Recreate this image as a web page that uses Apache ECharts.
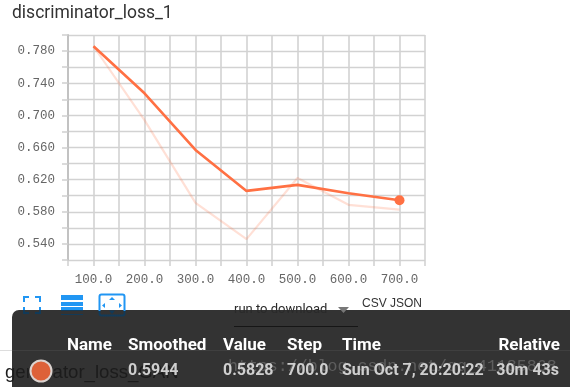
<!DOCTYPE html>
<html>
<head>
<meta charset="utf-8">
<style>html,body{margin:0;padding:0;background:#fff}#c{width:570px;height:387px}</style>
<script src="https://cdn.jsdelivr.net/npm/echarts@6/dist/echarts.min.js"></script>
</head>
<body>
<div id="c"></div>
<script>
const steps = [100, 200, 300, 400, 500, 600, 700];
const smoothed = [0.786, 0.7275, 0.657, 0.606, 0.6135, 0.603, 0.5944];
const rawValues = [0.786, 0.694, 0.591, 0.546, 0.622, 0.5887, 0.5828];
const yTickLabels = ['0.540', '0.580', '0.620', '0.660', '0.700', '0.740', '0.780'];
const xTickLabels = ['100.0', '200.0', '300.0', '400.0', '500.0', '600.0', '700.0'];
const tableHeaders = ['Name', 'Smoothed', 'Value', 'Step', 'Time'];
const tableRow = ['0.5944', '0.5828', '700.0', 'Sun Oct 7, 20:20:22'];

const chart = echarts.init(document.getElementById('c'), null, {renderer: 'canvas'});
const UI = 'Roboto, sans-serif';
const BLUE = '#2196f3', NAVY = '#123a58', LINE = '#ff7043';
const splitY = {show: true, lineStyle: {color: '#d2d2d2', width: 1.4}};
const splitX = {show: true, lineStyle: {color: '#d2d2d2', width: 1.6}};
const tickStyle = {show: true, length: 6, lineStyle: {color: '#cfcfcf', width: 1.5}};
const labelFont = {fontFamily: '"Liberation Mono", monospace', fontSize: 12.5, color: '#666'};

function txt(x, y, s, o) {
  return {type: 'text', x, y, z: o.z || 20, style: Object.assign({
    text: s, fontFamily: UI, fontSize: 15, fill: '#fff', textVerticalAlign: 'middle', verticalAlign: 'middle'
  }, o)};
}
function r(x, y, w, h, fill, z) {
  return {type: 'rect', z: z || 20, shape: {x, y, width: w, height: h}, style: {fill}};
}
function tri(pts, fill) {
  return {type: 'polygon', z: 20, shape: {points: pts}, style: {fill}};
}
const cols = [67, 128, 223, 287, 342];
const rowCols = [128, 223, 287, 342];
const graphic = [
  r(0, 350, 12, 1, '#dddddd', 5),
  {type: 'rect', z: 10, shape: {x: 12, y: 310, width: 570, height: 90, r: [7, 0, 0, 0]}, style: {fill: '#333333'}},
  r(12, 350, 558, 1, '#3f3f3f', 11),
  // fullscreen icon
  r(23, 296, 6, 2, BLUE), r(23, 296, 2, 6, BLUE),
  r(35, 296, 6, 2, BLUE), r(39, 296, 2, 6, BLUE),
  r(23, 307, 2, 3, BLUE), r(39, 307, 2, 3, BLUE),
  r(23, 310, 2, 3, NAVY), r(39, 310, 2, 3, NAVY),
  r(23, 312, 6, 2, NAVY), r(35, 312, 6, 2, NAVY),
  // lines icon
  r(61, 295, 22, 5, BLUE), r(61, 302, 22, 4, BLUE), r(61, 307, 22, 3, BLUE),
  r(61, 310, 22, 1, NAVY), r(61, 314, 22, 1, NAVY),
  // fit icon
  {type: 'rect', z: 20, shape: {x: 99.5, y: 294.5, width: 25, height: 21, r: 2},
    style: {fill: 'none', lineWidth: 2, stroke: {type: 'linear', x: 0, y: 0, x2: 0, y2: 1, colorStops: [
      {offset: 0, color: BLUE}, {offset: 0.72, color: BLUE}, {offset: 0.73, color: NAVY}, {offset: 1, color: NAVY}
    ]}}},
  tri([[109, 300], [112, 297], [115, 300]], BLUE),
  tri([[109, 310.5], [112, 314], [115, 310.5]], NAVY),
  tri([[102, 305.5], [105, 303], [105, 308]], BLUE),
  tri([[122, 305.5], [119, 303], [119, 308]], BLUE),
  // download controls
  txt(234, 310, 'run to download', {fontSize: 13, fill: '#2a2a2a', z: 18}),
  tri([[338, 307], [349, 307], [343.5, 313]], '#777777'),
  r(234, 326, 124, 1, '#161616', 18),
  txt(362, 304, 'CSV', {fontFamily: '"Liberation Sans", sans-serif', fontSize: 12, fill: '#333'}),
  txt(390, 304, 'JSON', {fontFamily: '"Liberation Sans", sans-serif', fontSize: 12, fill: '#333'}),
  // watermark
  txt(228, 367, 'https://blog.csdn.net/qq_41185868', {fontFamily: '"Liberation Mono", monospace', fontSize: 16.6, fill: 'rgba(205,205,205,0.28)', z: 15}),
  // legend circle and overlapping text
  {type: 'circle', z: 16, shape: {cx: 41, cy: 371, r: 10.5}, style: {fill: '#dd6138', stroke: '#dcd3cf', lineWidth: 2}},
  txt(5, 373, 'generator_loss_GAN', {fontFamily: '"Liberation Sans", sans-serif', fontSize: 18.6, fill: '#1c1c1c', z: 14}),
  // table
  ...tableHeaders.map((s, i) => txt(cols[i], 346, s, {fontWeight: 'bold', fontSize: 17})),
  txt(560, 346, 'Relative', {fontWeight: 'bold', fontSize: 17, textAlign: 'right', align: 'right'}),
  ...tableRow.map((s, i) => txt(rowCols[i], 371, s, {fontWeight: 'bold', fontSize: 16, fill: '#cfcfcf'})),
  txt(559, 371, '30m 43s', {fontWeight: 'bold', fontSize: 16, fill: '#cfcfcf', textAlign: 'right', align: 'right'})
];

chart.setOption({
  animation: false,
  backgroundColor: '#fff',
  title: {text: 'discriminator_loss_1', left: 7, top: 0, textStyle: {fontFamily: UI, fontSize: 17.5, fontWeight: 'normal', color: '#333'}},
  grid: {left: 68, right: 145, top: 35, bottom: 127, containLabel: false},
  xAxis: {
    type: 'value', min: 50, max: 750, interval: 50,
    axisLine: {show: false}, axisTick: tickStyle, splitLine: splitX,
    axisLabel: Object.assign({margin: 13, showMinLabel: true, hideOverlap: false,
      formatter: v => { const i = steps.indexOf(v); return i >= 0 ? xTickLabels[i] : ''; }}, labelFont)
  },
  yAxis: {
    type: 'value', min: 0.52, max: 0.8, interval: 0.02,
    axisLine: {show: true, lineStyle: {color: '#c2c2c2', width: 2}}, axisTick: tickStyle, splitLine: splitY,
    axisLabel: Object.assign({margin: 13, hideOverlap: false,
      formatter: v => { const s = v.toFixed(3); return yTickLabels.includes(s) ? s : ''; }}, labelFont)
  },
  series: [
    {type: 'line', data: steps.map((s, i) => [s, rawValues[i]]), symbol: 'none', z: 3,
      lineStyle: {color: LINE, width: 2.2, opacity: 0.22}},
    {type: 'line', data: steps.map((s, i) => [s, smoothed[i]]), symbol: 'none', z: 4,
      lineStyle: {color: LINE, width: 2.6}},
    {type: 'scatter', data: [[steps[steps.length - 1], smoothed[smoothed.length - 1]]], symbolSize: 10, z: 5,
      itemStyle: {color: LINE, opacity: 1}}
  ],
  graphic: {elements: graphic}
});
</script>
</body>
</html>
